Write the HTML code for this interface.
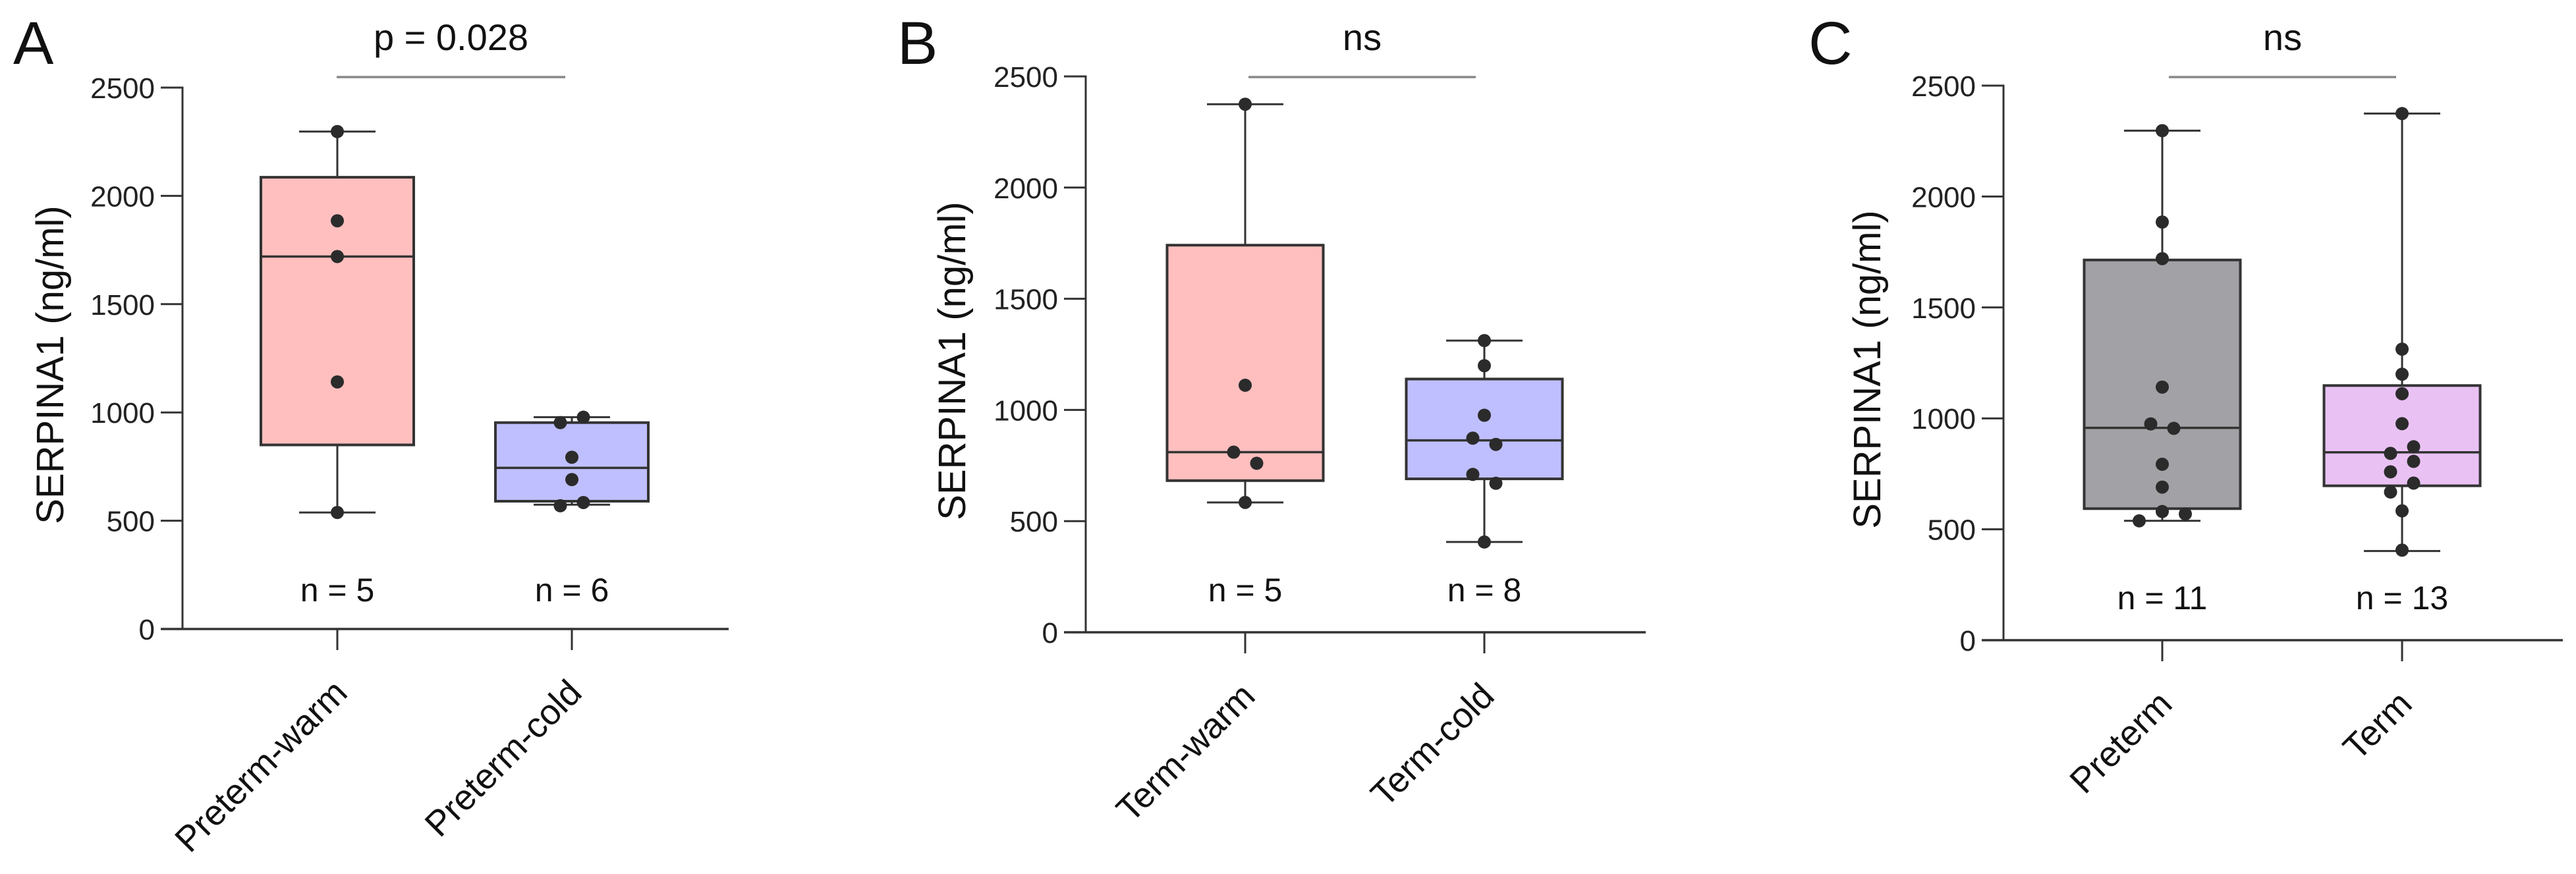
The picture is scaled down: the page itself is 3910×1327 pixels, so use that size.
<!DOCTYPE html>
<html><head><meta charset="utf-8">
<style>
html,body{margin:0;padding:0;background:#fff;}
svg{display:block;font-family:"Liberation Sans",Arial,sans-serif;}
</style></head>
<body>
<svg id="fig" width="3910" height="1327" viewBox="0 0 3910 1327" xmlns="http://www.w3.org/2000/svg"></svg>
<script>
// ---- data ----
const yTicks = [0, 500, 1000, 1500, 2000, 2500];
const catsA = ["Preterm-warm", "Preterm-cold"];
const catsB = ["Term-warm", "Term-cold"];
const catsC = ["Preterm", "Term"];
const nLabelsA = ["n = 5", "n = 6"];
const nLabelsB = ["n = 5", "n = 8"];
const nLabelsC = ["n = 11", "n = 13"];
const sigA = "p = 0.028";
const sigB = "ns";
const sigC = "ns";
// box stats: [whiskerLow, q1, median, q3, whiskerHigh]
const boxA1 = [538, 850, 1720, 2086, 2297];
const boxA2 = [574, 590, 744, 953, 978];
const boxB1 = [584, 682, 810, 1741, 2375];
const boxB2 = [406, 690, 863, 1139, 1312];
const boxC1 = [538, 593, 957, 1714, 2297];
const boxC2 = [402, 696, 847, 1148, 2374];
// points: values and horizontal jitter slot
const ptsA1 = [2297, 1885, 1720, 1141, 538];
const jitA1 = [0, 0, 0, 0, 0];
const ptsA2 = [953, 978, 793, 690, 569, 584];
const jitA2 = [-1, 1, 0, 0, -1, 1];
const ptsB1 = [2375, 1111, 810, 760, 584];
const jitB1 = [0, 0, -1, 1, 0];
const ptsB2 = [1312, 1199, 976, 873, 845, 710, 670, 406];
const jitB2 = [0, 0, 0, -1, 1, -1, 1, 0];
const ptsC1 = [2297, 1885, 1720, 1141, 975, 955, 793, 690, 580, 569, 538];
const jitC1 = [0, 0, 0, 0, -1, 1, 0, 0, 0, 2, -2];
const ptsC2 = [2374, 1312, 1199, 1111, 976, 842, 872, 806, 759, 708, 668, 583, 406];
const jitC2 = [0, 0, 0, 0, 0, -1, 1, 1, -1, 1, -1, 0, 0];

const svg = document.getElementById('fig');
const NS = 'http://www.w3.org/2000/svg';
function mk(tag, attrs, parent) {
  const e = document.createElementNS(NS, tag);
  for (const k in attrs) e.setAttribute(k, attrs[k]);
  (parent || svg).appendChild(e);
  return e;
}

function panel(cfg) {
  const g = mk('g', {});
  
  
  const y = v => cfg.y0 + (cfg.y2500 - cfg.y0) * v / 2500;
  const L = mk('text', {x: cfg.letterX, y: 97, 'font-size': 92, fill: '#111'}, g);
  L.textContent = cfg.letter;
  
  
  const ya = mk('line', {x1: cfg.ax, x2: cfg.ax, y1: y(2500) - 1.5, y2: y(0) + 1.5, stroke: '#333', 'stroke-width': 3}, g);
  
  
  yTicks.forEach(t => {
    const tk = mk('line', {x1: cfg.ax - 33, x2: cfg.ax, y1: y(t), y2: y(t), stroke: '#333', 'stroke-width': 3}, g);
    
    
    const tl = mk('text', {x: cfg.ax - 42, y: y(t) + 16, 'font-size': 44, 'text-anchor': 'end', fill: '#222'}, g);
    tl.textContent = t;
    
    
  });
  const yt = mk('text', {x: 0, y: 0, 'font-size': 58, 'text-anchor': 'middle', fill: '#111',
    transform: `translate(${cfg.titleX},${(y(0) + y(2500)) / 2 + 10}) rotate(-90)`}, g);
  yt.textContent = 'SERPINA1 (ng/ml)';
  
  
  const xa = mk('line', {x1: cfg.ax - 33, x2: cfg.axEnd, y1: y(0), y2: y(0), stroke: '#333', 'stroke-width': 3.5}, g);
  
  
  const boxW = cfg.boxW;
  cfg.groups.forEach((grp, i) => {
    const cx = cfg.cx[i];
    const b = grp.box;
    const gg = mk('g', {}, g);
    
    
    const w1 = mk('line', {x1: cx, x2: cx, y1: y(b[4]), y2: y(b[3]), stroke: '#333', 'stroke-width': 3}, gg);
    
    
    const w2 = mk('line', {x1: cx, x2: cx, y1: y(b[1]), y2: y(b[0]), stroke: '#333', 'stroke-width': 3}, gg);
    
    
    [b[0], b[4]].forEach(v => {
      const c = mk('line', {x1: cx - 58, x2: cx + 58, y1: y(v), y2: y(v), stroke: '#333', 'stroke-width': 3}, gg);
      
      
    });
    const r = mk('rect', {x: cx - boxW / 2, y: y(b[3]), width: boxW, height: y(b[1]) - y(b[3]), fill: grp.fill, stroke: '#333', 'stroke-width': 4}, gg);
    
    
    const m = mk('line', {x1: cx - boxW / 2, x2: cx + boxW / 2, y1: y(b[2]), y2: y(b[2]), stroke: '#333', 'stroke-width': 3.5}, gg);
    
    
    grp.pts.forEach((v, j) => {
      const d = mk('circle', {cx: cx + grp.jit[j] * 17.5, cy: y(v), r: 10, fill: '#2b2b2b'}, gg);
      
      
    });
    const n = mk('text', {x: cx, y: cfg.nY, 'font-size': 50, 'text-anchor': 'middle', fill: '#111'}, gg);
    n.textContent = cfg.nl[i];
    
    
    const xt = mk('line', {x1: cx, x2: cx, y1: y(0), y2: y(0) + 32, stroke: '#333', 'stroke-width': 3}, gg);
    
    
    const cl = mk('text', {x: 0, y: 0, 'font-size': 54, 'text-anchor': 'end', fill: '#111',
      transform: `translate(${cx + 18},${y(0) + 100}) rotate(-45)`}, gg);
    cl.textContent = cfg.cats[i];
    
    
  });
  const sl = mk('line', {x1: cfg.sigX1, x2: cfg.sigX2, y1: 117, y2: 117, stroke: '#888', 'stroke-width': 3.5}, g);
  
  
  const st = mk('text', {x: (cfg.sigX1 + cfg.sigX2) / 2, y: 76, 'font-size': 56, 'text-anchor': 'middle', fill: '#111'}, g);
  st.textContent = cfg.sig;
  
  
}

panel({letter: 'A', letterX: 20, ax: 277, axEnd: 1106, y0: 955, y2500: 133, titleX: 96, cx: [512, 868], boxW: 232,
  cats: catsA, nl: nLabelsA, nY: 913, sig: sigA, sigX1: 511, sigX2: 858,
  groups: [{box: boxA1, pts: ptsA1, jit: jitA1, fill: '#ffbfbf'}, {box: boxA2, pts: ptsA2, jit: jitA2, fill: '#bfbfff'}]});
panel({letter: 'B', letterX: 1362, ax: 1648, axEnd: 2498, y0: 960, y2500: 116, titleX: 1465, cx: [1890, 2253], boxW: 237,
  cats: catsB, nl: nLabelsB, nY: 913, sig: sigB, sigX1: 1895, sigX2: 2240,
  groups: [{box: boxB1, pts: ptsB1, jit: jitB1, fill: '#ffbfbf'}, {box: boxB2, pts: ptsB2, jit: jitB2, fill: '#bfbfff'}]});
panel({letter: 'C', letterX: 2745, ax: 3041, axEnd: 3890, y0: 972, y2500: 130, titleX: 2854, cx: [3282, 3646], boxW: 237,
  cats: catsC, nl: nLabelsC, nY: 925, sig: sigC, sigX1: 3292, sigX2: 3637,
  groups: [{box: boxC1, pts: ptsC1, jit: jitC1, fill: '#a2a2a6'}, {box: boxC2, pts: ptsC2, jit: jitC2, fill: '#e9c2f3'}]});
</script>
</body></html>
